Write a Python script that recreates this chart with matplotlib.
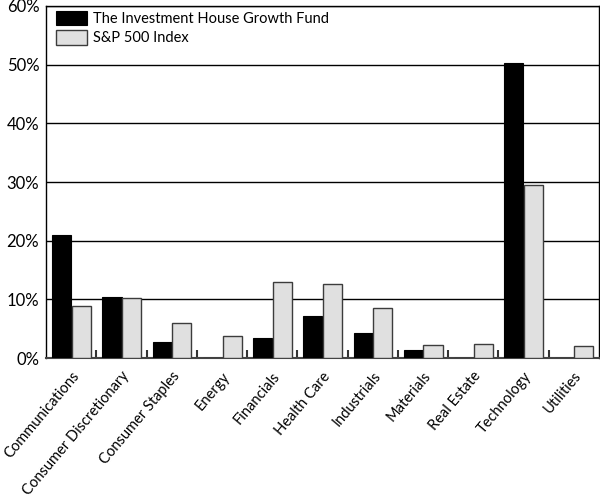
import numpy as np
import matplotlib
matplotlib.use("Agg")
import matplotlib.pyplot as plt
from matplotlib.ticker import FixedLocator, PercentFormatter

plt.rcParams["font.family"] = ["Lato", "DejaVu Sans"]

sectors = ["Communications", "Consumer Discretionary", "Consumer Staples", "Energy",
           "Financials", "Health Care", "Industrials", "Materials", "Real Estate",
           "Technology", "Utilities"]
fund = [21.0, 10.4, 2.7, 0.0, 3.4, 7.2, 4.3, 1.3, 0.0, 50.3, 0.0]
sp500 = [8.8, 10.2, 6.0, 3.7, 13.0, 12.7, 8.5, 2.2, 2.4, 29.5, 2.1]
fund_label = "The Investment House Growth Fund"
index_label = "S&P 500 Index"

fig = plt.figure(figsize=(6.0, 4.98), dpi=100)
ax = fig.add_axes([0.077, 0.281, 0.921, 0.707])

x = np.arange(len(sectors))
w = 0.38
ax.bar(x - 0.19, fund, w, color="black", edgecolor="black", linewidth=0.8,
       label=fund_label, zorder=3)
ax.bar(x + 0.20, sp500, w, color="#e0e0e0", edgecolor="#3c3c3c", linewidth=1.0,
       label=index_label, zorder=3)

ax.set_xlim(-0.5, len(sectors) - 0.5)
ax.set_ylim(0, 60)
ax.set_yticks(np.arange(0, 61, 10))
ax.yaxis.set_major_formatter(PercentFormatter(decimals=0))
ax.tick_params(axis="y", length=0, pad=5, labelsize=12)
ax.grid(axis="y", color="black", linewidth=1.0, zorder=1)

ax.set_xticks(x)
ax.set_xticklabels(sectors, rotation=50, ha="right", rotation_mode="anchor",
                   fontsize=10.5)
ax.tick_params(axis="x", which="major", length=0, pad=8)
ax.xaxis.set_minor_locator(FixedLocator(x[:-1] + 0.5))
ax.tick_params(axis="x", which="minor", direction="in", length=6, width=1.5,
               color="#333333")

for s in ax.spines.values():
    s.set_color("black")
    s.set_linewidth(1.0)
ax.spines["bottom"].set_color("#444444")
ax.spines["bottom"].set_linewidth(1.5)

leg = ax.legend(loc="upper left", bbox_to_anchor=(0.007, 1.003), frameon=False,
                fontsize=10.5, handlelength=2.1, handleheight=1.15,
                labelspacing=0.3, handletextpad=0.45, borderaxespad=0.0)

fig.savefig("out.png", dpi=100)
